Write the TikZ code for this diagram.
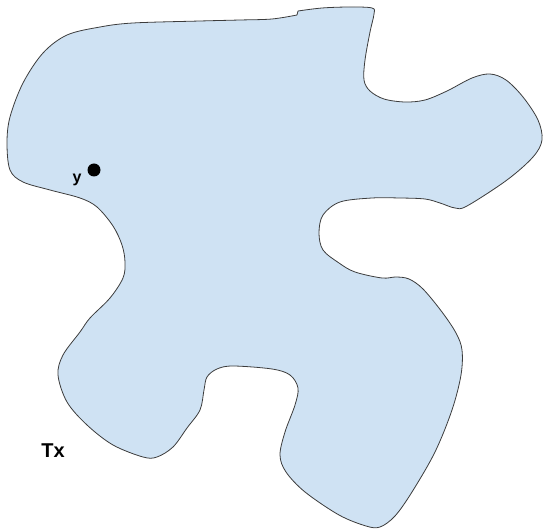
\documentclass[tikz,border=0pt]{standalone}
\usepackage{fontspec}
\setmainfont{Liberation Sans}
\definecolor{blobblue}{RGB}{207,226,243}
\definecolor{blobline}{RGB}{60,60,60}
\usetikzlibrary{positioning}

\begin{document}
\begin{tikzpicture}[x=1pt, y=-1pt,
  blob/.style={draw=blobline, line width=0.8pt, fill=blobblue, line join=round},
  point/.style={circle, fill=black, inner sep=0pt, minimum size=13pt},
  lbl/.style={font=\bfseries, text=black, inner sep=0pt}]

\useasboundingbox (0,0) rectangle (544,529);

% region outline
\draw[blob] plot[smooth, tension=0.55] coordinates {
  (298,11) (322,8) (350,7) (372,8) (374,14) (370,32) (365,60) (364,80)
  (370,91) (384,99) (405,102) (425,100) (447,91) (472,78) (490,74)
  (506,80) (523,97) (538,120) (542,140) (533,157) (507,180) (467,206)
  (455,208) (440,203) (425,199) (400,198) (372,198) (340,202) (323,215)
  (319,233) (323,250) (339,263) (355,272) (382,278) (396,277) (409,279)
  (423,289) (442,312) (456,333) (462,350) (461,375) (452,410) (435,452)
  (412,492) (395,516) (380,527) (366,526) (339,515) (305,492) (286,472)
  (280,455) (285,432) (295,405) (298,388) (290,375) (272,369) (233,366)
  (217,369) (207,377) (204,390) (200,410) (187,428) (173,447) (157,457)
  (143,457) (113,445) (87,425) (67,402) (58,375) (63,355) (80,332)
  (90,318) (110,298) (123,278) (125,262) (122,245) (113,226) (97,207)
  (80,198) (50,190) (23,182) (10,170) (7,143) (10,117) (23,83) (43,53)
  (67,35) (100,27) (133,23) (200,21) (240,20) (272,19) (297,15)} -- cycle;

% point and labels
\node[point] (ypt) at (94,170) {};
\node[lbl, font=\fontsize{16}{16}\selectfont\bfseries] (ylbl) at (77,180) {y};
\node[lbl, font=\fontsize{20}{20}\selectfont\bfseries] (tx) at (53,451) {Tx};

\end{tikzpicture}
\end{document}
